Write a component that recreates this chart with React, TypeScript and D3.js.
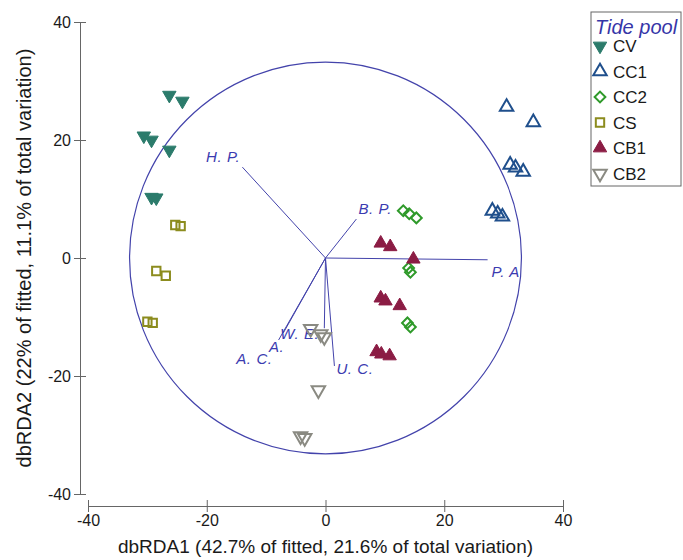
import React, { useEffect, useRef } from 'react';
import * as d3 from 'd3';

// site scores, [dbRDA1, dbRDA2]
const cvPoints = [[-26.3, 27.6], [-24.1, 26.6], [-30.6, 20.7], [-29.3, 20.0], [-26.3, 18.3], [-29.3, 10.3], [-28.5, 10.2]];
const cc1Points = [[30.5, 25.6], [35.0, 23.0], [31.1, 15.8], [32.0, 15.3], [33.3, 14.6], [28.1, 8.0], [29.0, 7.5], [29.8, 7.0]];
const cc2Points = [[13.1, 8.0], [14.1, 7.5], [15.3, 6.8], [14.0, -1.7], [14.3, -2.4], [13.8, -11.0], [14.3, -11.7]];
const csPoints = [[-25.3, 5.6], [-24.4, 5.4], [-28.5, -2.2], [-26.9, -3.0], [-30.0, -10.8], [-29.1, -11.0]];
const cb1Points = [[9.3, 2.5], [10.9, 1.9], [14.8, -0.2], [9.3, -6.8], [10.1, -7.3], [12.5, -8.1], [8.6, -15.9], [9.4, -16.3], [10.8, -16.6]];
const cb2Points = [[-2.5, -12.0], [-0.8, -12.9], [-0.2, -13.4], [-1.2, -22.4], [-4.2, -30.2], [-3.5, -30.5]];

const groupNames = ['CV', 'CC1', 'CC2', 'CS', 'CB1', 'CB2'];
const groupPoints = [cvPoints, cc1Points, cc2Points, csPoints, cb1Points, cb2Points];

// vector overlay
const vectorNames = ['H. P.', 'B. P.', 'P. A', 'A. C.', 'A.', 'W. E.', 'U. C.'];
const vectorX = [-14.0, 5.2, 27.3, -7.9, -7.1, -0.2, 1.5];
const vectorY = [15.4, 6.6, -0.3, -13.9, -12.7, -11.9, -18.3];
const circleRadius = 33;

const axisTicks = [-40, -20, 0, 20, 40];

const groupStyle = {
  CV: { color: '#2b7b6b', shape: 'tri', down: true, fill: true },
  CC1: { color: '#1f4f8c', shape: 'tri', down: false, fill: false },
  CC2: { color: '#2f9a2a', shape: 'diamond', down: false, fill: false },
  CS: { color: '#8c8c1e', shape: 'square', down: false, fill: false },
  CB1: { color: '#8b1c44', shape: 'tri', down: false, fill: true },
  CB2: { color: '#8a8a82', shape: 'tri', down: true, fill: false },
};

// label placement relative to arrow tip: [dx, dy, anchor]
const labelOffsets = [[-2, -5, 'end'], [2, -5, 'start'], [4, 17, 'start'], [-6, 24, 'end'], [1, 19, 'end'], [-5, 11, 'end'], [2, 8, 'start']];

const W = 683;
const H = 560;
const blue = '#4343ab';
const font = '"Liberation Sans", Arial, sans-serif';

const marker = (shape, down) => {
  if (shape === 'tri') return { d: d3.symbol(d3.symbolTriangle, 78)(), rot: down ? 180 : 0 };
  if (shape === 'diamond') return { d: d3.symbol(d3.symbolSquare, 58)(), rot: 45 };
  return { d: d3.symbol(d3.symbolSquare, 70)(), rot: 0 };
};

const Marker = ({ name, x, y }) => {
  const s = groupStyle[name];
  const m = marker(s.shape, s.down);
  return (
    <path
      d={m.d}
      transform={`translate(${x},${y}) rotate(${m.rot})`}
      fill={s.fill ? s.color : 'none'}
      stroke={s.color}
      strokeWidth={s.fill ? 1 : 2}
    />
  );
};

export default function App() {
  const xAxisRef = useRef(null);
  const yAxisRef = useRef(null);

  const x = d3.scaleLinear().domain([-40, 40]).range([88, 563]);
  const y = d3.scaleLinear().domain([-40, 40]).range([494, 22]);
  const xAxisY = 506;
  const yAxisX = 80;

  useEffect(() => {
    const fmt = d => String(d);
    const gx = d3.select(xAxisRef.current);
    gx.selectAll('*').remove();
    gx.call(d3.axisBottom(x).tickValues(axisTicks).tickFormat(fmt).tickSize(6).tickPadding(3).tickSizeOuter(0));
    gx.select('.domain').attr('stroke', '#666');
    gx.selectAll('.tick line').attr('y1', -6).attr('stroke', '#666');
    gx.selectAll('.tick text').attr('font-size', 16).attr('font-family', font).attr('fill', '#1a1a1a');

    const gy = d3.select(yAxisRef.current);
    gy.selectAll('*').remove();
    gy.call(d3.axisLeft(y).tickValues(axisTicks).tickFormat(fmt).tickSize(6).tickPadding(3).tickSizeOuter(0));
    gy.select('.domain').attr('stroke', '#666');
    gy.selectAll('.tick line').attr('x1', 6).attr('stroke', '#666');
    gy.selectAll('.tick text').attr('font-size', 16).attr('font-family', font).attr('fill', '#1a1a1a');
  }, []);

  const r = x(circleRadius) - x(0);

  return (
    <svg width={W} height={H} style={{ position: 'absolute', left: 0, top: 0, background: '#fff' }} fontFamily={font}>
      <circle cx={x(0)} cy={y(0)} r={r} fill="none" stroke={blue} strokeWidth={1.2} />

      {vectorNames.map((name, i) => (
        <g key={name}>
          <line x1={x(0)} y1={y(0)} x2={x(vectorX[i])} y2={y(vectorY[i])} stroke={blue} strokeWidth={1} />
          <text
            x={x(vectorX[i]) + labelOffsets[i][0]}
            y={y(vectorY[i]) + labelOffsets[i][1]}
            textAnchor={labelOffsets[i][2]}
            fontSize={15}
            letterSpacing={0.6}
            fontStyle="italic"
            fill="#3b3bb0"
          >
            {name}
          </text>
        </g>
      ))}

      {groupNames.map((name, gi) =>
        groupPoints[gi].map((p, j) => <Marker key={name + j} name={name} x={x(p[0])} y={y(p[1])} />)
      )}

      <g ref={xAxisRef} transform={`translate(0,${xAxisY})`} />
      <g ref={yAxisRef} transform={`translate(${yAxisX},0)`} />

      <text x={(x(-40) + x(40)) / 2} y={553} textAnchor="middle" fontSize={19} fill="#1a1a1a">
        dbRDA1 (42.7% of fitted, 21.6% of total variation)
      </text>
      <text transform={`translate(31,${y(0)}) rotate(-90)`} textAnchor="middle" fontSize={20} fill="#1a1a1a">
        dbRDA2 (22% of fitted, 11.1% of total variation)
      </text>

      <g transform="translate(591,12)">
        <rect x={0} y={0} width={90} height={174} fill="#fff" stroke="#666" strokeWidth={1} />
        <text x={4} y={22} fontSize={20} fontStyle="italic" fill="#3535a8">Tide pool</text>
        {groupNames.map((name, i) => (
          <g key={name} transform={`translate(0,${34 + i * 25.5})`}>
            <Marker name={name} x={9} y={0} />
            <text x={22} y={6} fontSize={17} fill="#1a1a1a">{name}</text>
          </g>
        ))}
      </g>
    </svg>
  );
}
